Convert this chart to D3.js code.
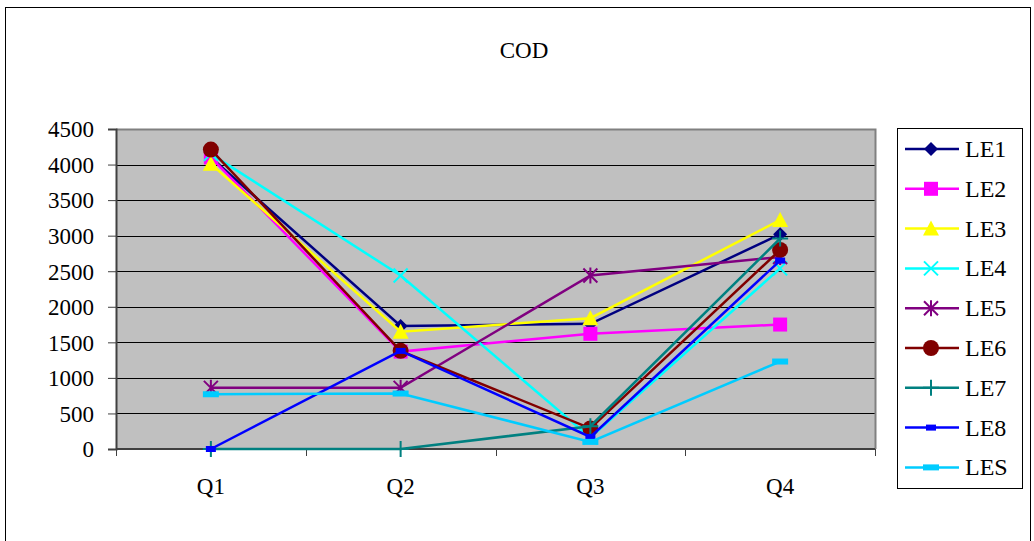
<!DOCTYPE html>
<html>
<head>
<meta charset="utf-8">
<script src="https://cdn.jsdelivr.net/npm/d3@7"></script>
<style>
  body { margin: 0; background: #fff; }
  svg text { font-family: "DejaVu Serif", serif; fill: #000; }
</style>
</head>
<body>
<div id="container"></div>
<script>
const quarters = ['Q1', 'Q2', 'Q3', 'Q4']
const seriesNames = ['LE1', 'LE2', 'LE3', 'LE4', 'LE5', 'LE6', 'LE7', 'LE8', 'LES']
const le1 = [4100, 1730, 1760, 3020]
const le2 = [4100, 1370, 1620, 1750]
const le3 = [4010, 1650, 1840, 3220]
const le4 = [4150, 2440, 160, 2540]
const le5 = [860, 860, 2440, 2700]
const le6 = [4210, 1380, 290, 2800]
const le7 = [0, 0, 320, 2960]
const le8 = [0, 1380, 170, 2650]
const les = [770, 780, 100, 1230]
const yTicks = [0, 500, 1000, 1500, 2000, 2500, 3000, 3500, 4000, 4500]

const colours = ['#000080', '#FF00FF', '#FFFF00', '#00FFFF', '#800080', '#800000', '#008080', '#0000FF', '#00CCFF']
const shapes = ['diamond', 'square', 'triangle', 'x', 'star', 'circle', 'plus', 'dash', 'bar']
const allValues = [le1, le2, le3, le4, le5, le6, le7, le8, les]

const w = 1034
const h = 541
const plot = { left: 116, right: 875, top: 129, bottom: 449 }
const serif = 'Liberation Serif'

const svg = d3.select('#container').append('svg')
  .attr('width', w).attr('height', h)

// outer chart border
svg.append('rect')
  .attr('x', 5.5).attr('y', 7.5).attr('width', 1025).attr('height', 560)
  .attr('fill', 'none').attr('stroke', '#000').attr('stroke-width', 1)

svg.append('text')
  .attr('x', 524).attr('y', 58).attr('text-anchor', 'middle')
  .style('font-family', serif).style('font-size', '23px').text('COD')

const x = d3.scaleBand().domain(quarters).range([plot.left, plot.right])
const y = d3.scaleLinear().domain([0, 4500]).range([plot.bottom, plot.top])

svg.append('rect')
  .attr('x', plot.left).attr('y', plot.top)
  .attr('width', plot.right - plot.left).attr('height', plot.bottom - plot.top)
  .attr('fill', '#C0C0C0')

// gridlines
svg.append('g').selectAll('line')
  .data(yTicks.filter(d => d > 0 && d < 4500))
  .enter().append('line')
  .attr('x1', plot.left).attr('x2', plot.right)
  .attr('y1', d => Math.round(y(d)) + 0.5).attr('y2', d => Math.round(y(d)) + 0.5)
  .attr('stroke', '#000').attr('stroke-width', 1)

// plot frame top/right
svg.append('path')
  .attr('d', `M${plot.left},${plot.top + 0.5}H${plot.right + 0.5}V${plot.bottom}`)
  .attr('fill', 'none').attr('stroke', '#808080').attr('stroke-width', 2)

// y axis
const yAxis = d3.axisLeft(y).tickValues(yTicks).tickFormat(d3.format('d')).tickSize(8).tickPadding(14)
const gy = svg.append('g').attr('transform', `translate(${plot.left},0)`).call(yAxis)
gy.select('.domain').attr('stroke', '#404040').attr('stroke-width', 2)
gy.selectAll('.tick line').attr('stroke', '#404040').attr('stroke-width', 1)
gy.selectAll('text').attr('fill', '#000').attr('dy', '0.34em')
  .style('font-family', serif).style('font-size', '23px')

// x axis with ticks between categories
const gx = svg.append('g').attr('transform', `translate(0,${plot.bottom})`)
gx.append('line').attr('x1', plot.left).attr('x2', plot.right)
  .attr('y1', 0).attr('y2', 0).attr('stroke', '#404040').attr('stroke-width', 2)
const edges = quarters.map(q => x(q)).concat([plot.right])
gx.selectAll('line.tk').data(edges).enter().append('line').attr('class', 'tk')
  .attr('x1', d => Math.round(d) + 0.5).attr('x2', d => Math.round(d) + 0.5)
  .attr('y1', 0).attr('y2', 7).attr('stroke', '#404040')
gx.selectAll('text').data(quarters).enter().append('text')
  .attr('x', d => x(d) + x.bandwidth() / 2).attr('y', 45)
  .attr('text-anchor', 'middle')
  .style('font-family', serif).style('font-size', '23px').text(d => d)

const marker = (g, shape, colour) => {
  if (shape === 'diamond') {
    g.append('path').attr('d', 'M0,-7L7,0L0,7L-7,0Z').attr('fill', colour)
  } else if (shape === 'square') {
    g.append('rect').attr('x', -7).attr('y', -7).attr('width', 14).attr('height', 14).attr('fill', colour)
  } else if (shape === 'triangle') {
    g.append('path').attr('d', 'M0,-8L8,7L-8,7Z').attr('fill', colour)
  } else if (shape === 'x') {
    g.append('path').attr('d', 'M-7,-7L7,7M-7,7L7,-7').attr('stroke', colour).attr('stroke-width', 2)
  } else if (shape === 'star') {
    g.append('path').attr('d', 'M-7,-7L7,7M-7,7L7,-7M0,-8V8').attr('stroke', colour).attr('stroke-width', 2)
  } else if (shape === 'circle') {
    g.append('circle').attr('r', 8).attr('fill', colour)
  } else if (shape === 'plus') {
    g.append('path').attr('d', 'M-8,0H8M0,-8V8').attr('stroke', colour).attr('stroke-width', 2)
  } else if (shape === 'dash') {
    g.append('rect').attr('x', -5).attr('y', -3).attr('width', 10).attr('height', 6).attr('fill', colour)
  } else if (shape === 'bar') {
    g.append('rect').attr('x', -8).attr('y', -3).attr('width', 16).attr('height', 6).attr('fill', colour)
  }
}

const line = d3.line()
  .x((d, i) => x(quarters[i]) + x.bandwidth() / 2)
  .y(d => y(d))

allValues.forEach((vals, s) => {
  const g = svg.append('g')
  g.append('path').attr('d', line(vals))
    .attr('fill', 'none').attr('stroke', colours[s]).attr('stroke-width', 2.5)
  vals.forEach((v, i) => {
    const m = g.append('g')
      .attr('transform', `translate(${x(quarters[i]) + x.bandwidth() / 2},${y(v)})`)
    marker(m, shapes[s], colours[s])
  })
})

// legend
const legend = svg.append('g')
legend.append('rect').attr('x', 897.5).attr('y', 128.5).attr('width', 125).attr('height', 360)
  .attr('fill', '#fff').attr('stroke', '#000')
seriesNames.forEach((name, s) => {
  const ly = 149 + s * 39.8
  const item = legend.append('g')
  item.append('line').attr('x1', 905).attr('x2', 959).attr('y1', ly).attr('y2', ly)
    .attr('stroke', colours[s]).attr('stroke-width', 2.5)
  marker(item.append('g').attr('transform', `translate(931,${ly})`), shapes[s], colours[s])
  item.append('text').attr('x', 965).attr('y', ly + 8)
    .style('font-family', serif).style('font-size', '24px').text(name)
})
</script>
</body>
</html>
